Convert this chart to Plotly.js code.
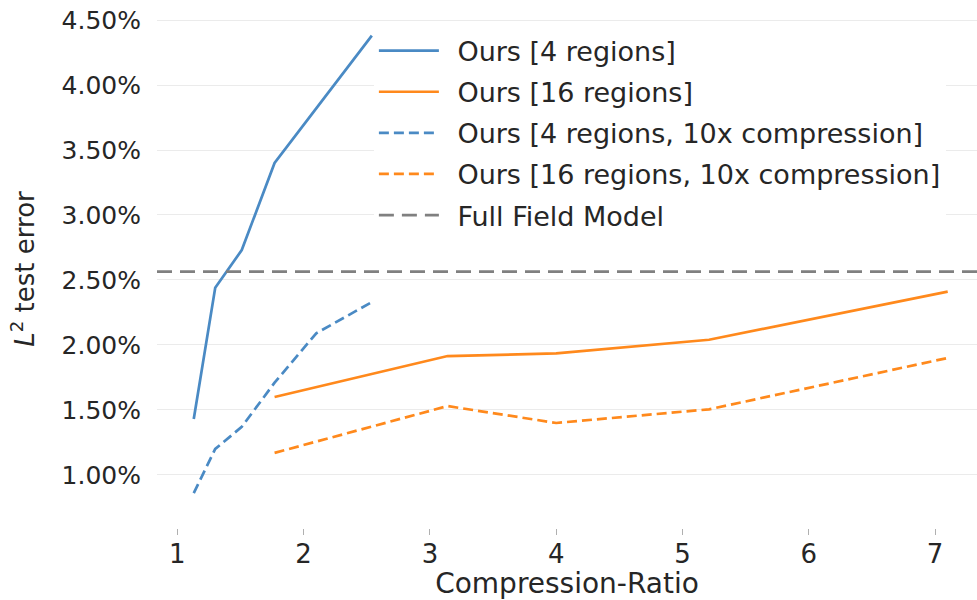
<!DOCTYPE html>
<html>
<head>
<meta charset="utf-8">
<script src="https://cdn.plot.ly/plotly-3.0.1.min.js"></script>
<style>html,body{margin:0;padding:0;background:#fff;}#chart{width:977px;height:600px;}</style>
</head>
<body>
<div id="chart"></div>
<script>
// Data (y values in percent)
const seriesNames = ["Ours [4 regions]", "Ours [16 regions]", "Ours [4 regions, 10x compression]", "Ours [16 regions, 10x compression]", "Full Field Model"];
const x4 = [1.13, 1.30, 1.51, 1.77, 2.10, 2.54];
const y4 = [1.43, 2.44, 2.73, 3.40, 3.82, 4.38];
const y4c = [0.86, 1.20, 1.37, 1.71, 2.09, 2.33];
const x16 = [1.77, 3.14, 4.0, 5.21, 7.10];
const y16 = [1.60, 1.915, 1.935, 2.04, 2.41];
const y16c = [1.17, 1.53, 1.40, 1.505, 1.90];
const fullField = 2.564;
const xTicks = [1, 2, 3, 4, 5, 6, 7];
const yTicks = [1.0, 1.5, 2.0, 2.5, 3.0, 3.5, 4.0, 4.5];

const xRange = [0.839, 7.332];
const yRange = [0.592, 4.577];

const blue = "#4a8ac4";
const orange = "#ff891c";
const gray = "#808080";
const font = "DejaVu Sans, sans-serif";
const pad = "\u2002";

const traces = [
  {x: x4, y: y4, name: pad + seriesNames[0], mode: "lines", line: {color: blue, width: 2.7}, legendgroup: "a"},
  {x: x16, y: y16, name: pad + seriesNames[1], mode: "lines", line: {color: orange, width: 2.7}, legendgroup: "b"},
  {x: x4, y: y4c, name: pad + seriesNames[2], mode: "lines", line: {color: blue, width: 2.7, dash: "10px,5px"}, legendgroup: "c"},
  {x: x16, y: y16c, name: pad + seriesNames[3], mode: "lines", line: {color: orange, width: 2.7, dash: "10px,5px"}, legendgroup: "d"},
  {x: xRange, y: [fullField, fullField], name: pad + seriesNames[4], mode: "lines", line: {color: gray, width: 2.7, dash: "15px,8px"}, legendgroup: "e"}
];

const layout = {
  width: 977, height: 600,
  margin: {l: 157, r: 0, t: 10, b: 72},
  paper_bgcolor: "#fff", plot_bgcolor: "#fff",
  font: {family: font, size: 26, color: "#262626"},
  showlegend: true,
  legend: {
    x: 0.2645, y: 0.968, xanchor: "left", yanchor: "top",
    bgcolor: "rgba(255,255,255,1)", borderwidth: 0,
    font: {family: font, size: 27, color: "#262626"},
    traceorder: "grouped", tracegroupgap: 3, itemwidth: 60
  },
  xaxis: {
    range: xRange, tickvals: xTicks, ticktext: xTicks.map(String),
    showgrid: false, zeroline: false, showline: false,
    ticks: "outside", ticklen: 6, tickcolor: "#b0b0b0", tickwidth: 1,
    ticklabelstandoff: -3,
    tickfont: {family: font, size: 26, color: "#262626"},
    title: {text: "Compression-Ratio", font: {family: font, size: 28, color: "#262626"}, standoff: 6}
  },
  yaxis: {
    range: yRange, tickvals: yTicks, ticktext: yTicks.map(v => v.toFixed(2) + "%"),
    showgrid: true, gridcolor: "#ebebeb", gridwidth: 1,
    zeroline: false, showline: false, ticks: "", ticklabelstandoff: 15,
    tickfont: {family: font, size: 25, color: "#262626"},
    title: {text: "<i>L</i><sup>2</sup> test error", font: {family: font, size: 26, color: "#262626"}, standoff: 19}
  }
};

Plotly.newPlot("chart", traces, layout, {displayModeBar: false, staticPlot: true});
</script>
</body>
</html>
